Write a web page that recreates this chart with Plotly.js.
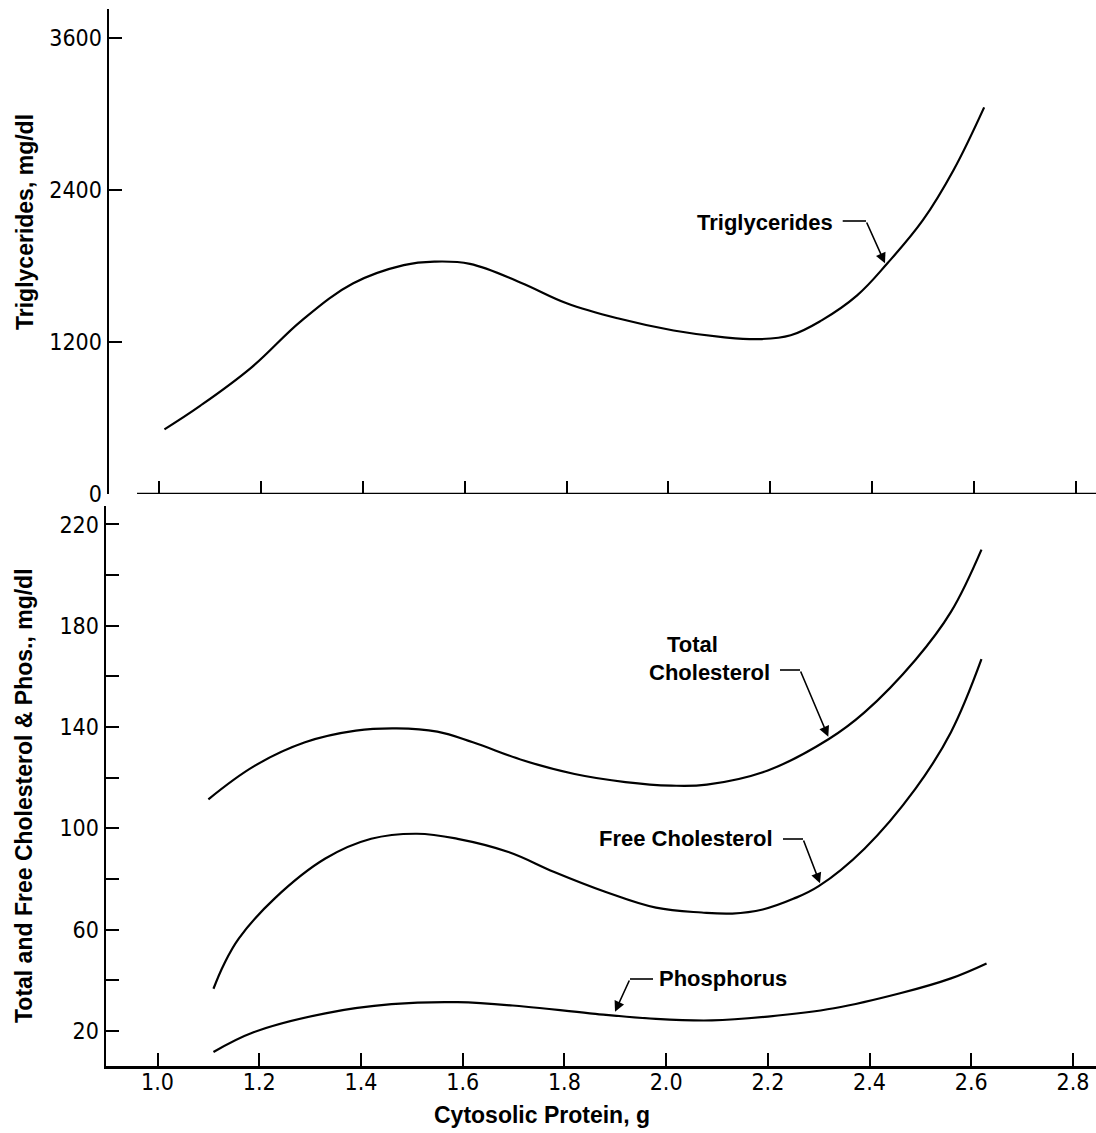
<!DOCTYPE html>
<html>
<head>
<meta charset="utf-8">
<script src="https://cdn.plot.ly/plotly-3.0.1.min.js"></script>
<style>html,body{margin:0;padding:0;background:#fff;}#chart{width:1096px;height:1133px;}</style>
</head>
<body>
<div id="chart"></div>
<script>
// ---- Data ----
// Top panel: Triglycerides (mg/dl) vs cytosolic protein (g)
const tgX = [1.01, 1.08, 1.18, 1.28, 1.38, 1.48, 1.54, 1.61, 1.71, 1.80, 1.90, 2.01, 2.11, 2.18, 2.24, 2.30, 2.37, 2.43, 2.50, 2.56, 2.62];
const tgY = [510, 695, 995, 1370, 1660, 1805, 1833, 1815, 1667, 1505, 1386, 1290, 1236, 1222, 1252, 1368, 1565, 1820, 2162, 2556, 3050];

// Bottom panel: Total cholesterol, free cholesterol, phosphorus (mg/dl)
const tcX = [1.10, 1.19, 1.29, 1.39, 1.47, 1.55, 1.62, 1.72, 1.82, 1.92, 2.01, 2.08, 2.20, 2.32, 2.39, 2.49, 2.56, 2.62];
const tcY = [111.5, 124.6, 134.0, 138.6, 139.5, 138.2, 134.0, 126.8, 121.5, 118.3, 116.9, 117.3, 122.9, 135.3, 145.8, 166.5, 185.5, 210.1];

const fcX = [1.11, 1.13, 1.16, 1.23, 1.33, 1.42, 1.51, 1.59, 1.69, 1.78, 1.88, 1.98, 2.07, 2.13, 2.19, 2.25, 2.30, 2.39, 2.49, 2.56, 2.62];
const fcY = [36.7, 46.1, 56.6, 72.3, 88.1, 95.9, 97.9, 95.9, 90.7, 82.8, 75.0, 68.7, 66.8, 66.4, 68.0, 72.2, 77.2, 92.0, 115.6, 138.0, 166.8];

const phX = [1.11, 1.19, 1.33, 1.46, 1.59, 1.72, 1.85, 1.98, 2.09, 2.20, 2.33, 2.46, 2.56, 2.63];
const phY = [11.7, 19.6, 27.0, 30.6, 31.4, 29.7, 27.0, 24.8, 24.2, 25.7, 29.0, 34.9, 40.8, 46.7];

// Tick values / labels
const xTickVals = [1.0, 1.2, 1.4, 1.6, 1.8, 2.0, 2.2, 2.4, 2.6, 2.8];
const xTickText = ['1.0', '1.2', '1.4', '1.6', '1.8', '2.0', '2.2', '2.4', '2.6', '2.8'];
const tgTickVals = [0, 1200, 2400, 3600];
const tgTickText = ['0', '1200', '2400', '3600'];
const cholTickVals = [20, 40, 60, 80, 100, 120, 140, 160, 180, 200, 220];
const cholTickText = ['20', '', '60', '', '100', '', '140', '', '180', '', '220'];

// Labels
const seriesNames = ['Triglycerides', 'Total Cholesterol', 'Free Cholesterol', 'Phosphorus'];
const xTitle = 'Cytosolic Protein, g';
const tgTitle = 'Triglycerides, mg/dl';
const cholTitle = 'Total and Free Cholesterol & Phos., mg/dl';

// ---- Styling ----
const tickFont = {family: "'Liberation Sans Narrow', 'DejaVu Sans Condensed', 'Liberation Sans', sans-serif", size: 23, color: '#000'};
const boldFont = {family: "'Liberation Sans', Arial, sans-serif", size: 22, color: '#000'};
const titleFont = {family: "'Liberation Sans', Arial, sans-serif", size: 23, color: '#000'};
const lineStyle = {color: '#000', width: 2.2, shape: 'spline', smoothing: 1.1};

const traces = [
  {x: tgX, y: tgY, name: seriesNames[0], xaxis: 'x2', yaxis: 'y2', mode: 'lines', line: lineStyle},
  {x: tcX, y: tcY, name: seriesNames[1], xaxis: 'x', yaxis: 'y', mode: 'lines', line: lineStyle},
  {x: fcX, y: fcY, name: seriesNames[2], xaxis: 'x', yaxis: 'y', mode: 'lines', line: lineStyle},
  {x: phX, y: phY, name: seriesNames[3], xaxis: 'x', yaxis: 'y', mode: 'lines', line: lineStyle}
];

const axisCommon = {
  showgrid: false, zeroline: false, ticks: 'inside', ticklen: 13, tickwidth: 2,
  tickcolor: '#000', linecolor: '#000', linewidth: 2.5, tickfont: tickFont, fixedrange: true
};

const W = 1096, H = 1133;
const px = v => v / W;
const py = v => (H - v) / H;

function arrow(hx, hy, tx, ty) {
  return {xref: 'paper', yref: 'paper', x: px(hx), y: py(hy), ax: tx - hx, ay: ty - hy,
          text: '', showarrow: true, arrowhead: 2, arrowsize: 1.3, arrowwidth: 1.6, arrowcolor: '#000'};
}
function label(text, cx, cy, font) {
  return {xref: 'paper', yref: 'paper', x: px(cx), y: py(cy), text: '<b>' + text + '</b>',
          showarrow: false, xanchor: 'center', yanchor: 'middle', font: font || boldFont};
}
function dash(x0, x1, y) {
  return {type: 'line', xref: 'paper', yref: 'paper', x0: px(x0), x1: px(x1), y0: py(y), y1: py(y),
          line: {color: '#000', width: 1.6}};
}

const layout = {
  width: W, height: H,
  margin: {l: 0, r: 0, t: 0, b: 0},
  paper_bgcolor: '#fff', plot_bgcolor: '#fff',
  showlegend: false,
  xaxis: Object.assign({}, axisCommon, {
    domain: [px(106), 1], range: [0.8987, 2.8452], anchor: 'y',
    tickmode: 'array', tickvals: xTickVals, ticktext: xTickText, showline: true, ticklabelstandoff: -6
  }),
  yaxis: Object.assign({}, axisCommon, {
    domain: [py(1066), py(506)], range: [6.2, 227.3], anchor: 'x',
    tickmode: 'array', tickvals: cholTickVals, ticktext: cholTickText, showline: true
  }),
  xaxis2: Object.assign({}, axisCommon, {
    domain: [px(109), 1], range: [0.9011, 2.8397], anchor: 'y2',
    tickmode: 'array', tickvals: xTickVals, showticklabels: false, showline: false
  }),
  yaxis2: Object.assign({}, axisCommon, {
    domain: [py(494), py(9)], range: [0, 3826], anchor: 'x2',
    tickmode: 'array', tickvals: tgTickVals, ticktext: tgTickText, showline: true
  }),
  shapes: [
    // top panel horizontal axis line (drawn with a gap from the y-axis, as in the original)
    {type: 'line', xref: 'x2 domain', yref: 'y2', x0: 0.0284, x1: 1, y0: 0, y1: 0, line: {color: '#000', width: 2.5}},
    dash(842.7, 866, 221),
    dash(780, 800, 670),
    dash(783, 803, 839),
    dash(630, 653, 979)
  ],
  annotations: [
    label(seriesNames[0], 765, 222.5),
    arrow(885, 263.3, 866, 221),
    label('Total', 692, 644),
    label('Cholesterol', 709, 672),
    arrow(828.3, 736.7, 800, 670),
    label(seriesNames[2], 686, 838),
    arrow(820, 883.3, 803, 839),
    label(seriesNames[3], 723, 978.5),
    arrow(615, 1011.7, 630, 979),
    // axis titles
    {xref: 'paper', yref: 'paper', x: px(25), y: py(222), text: '<b>' + tgTitle + '</b>', textangle: -90,
     showarrow: false, xanchor: 'center', yanchor: 'middle', font: titleFont},
    {xref: 'paper', yref: 'paper', x: px(24), y: py(796), text: '<b>' + cholTitle + '</b>', textangle: -90,
     showarrow: false, xanchor: 'center', yanchor: 'middle', font: titleFont},
    {xref: 'paper', yref: 'paper', x: px(542), y: py(1115), text: '<b>' + xTitle + '</b>',
     showarrow: false, xanchor: 'center', yanchor: 'middle', font: titleFont}
  ]
};

Plotly.newPlot('chart', traces, layout, {staticPlot: true, displayModeBar: false});
</script>
</body>
</html>
